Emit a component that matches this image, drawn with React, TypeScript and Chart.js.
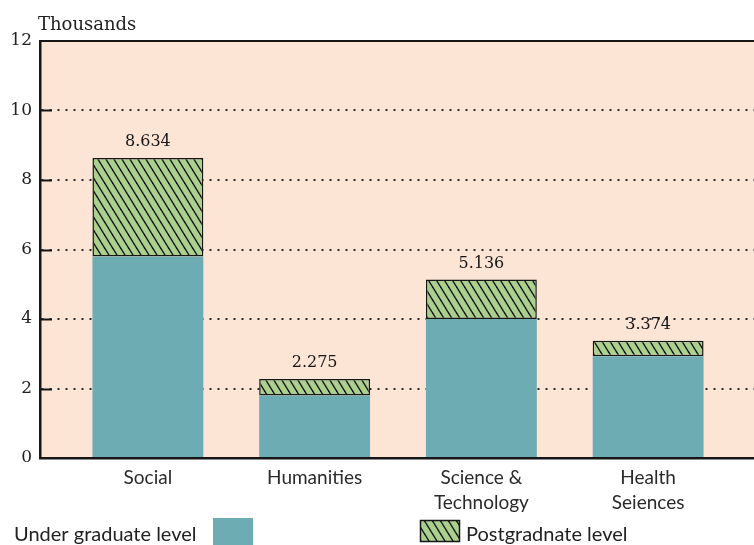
import React, { useEffect, useRef } from "react";
import { Chart, registerables } from "chart.js";

Chart.register(...registerables);

// Enrolment by field of study (thousands of students)
const CATEGORY_LINES: string[][] = [
  ["Social"],
  ["Humanities"],
  ["Science &", "Technology"],
  ["Health", "Seiences"],
];
const UNDERGRAD = [5.8, 1.8, 4.0, 2.93];
const POSTGRAD = [2.834, 0.475, 1.136, 0.444];
const Y_TICKS = [0, 2, 4, 6, 8, 10, 12];

const UNDERGRAD_LABEL = "Under graduate level";
const POSTGRAD_LABEL = "Postgradnate level";
const UNIT_LABEL = "Thousands";

const PLOT_BG = "#fde5d5";
const TEAL = "#6eacb4";
const GREEN = "#aacf8e";
const INK = "#161616";
const SERIF = "'DejaVu Serif', serif";
const SANS = "Lato, 'Open Sans', sans-serif";

function makeHatch(): CanvasPattern | string {
  const w = 8;
  const h = 13;
  const tile = document.createElement("canvas");
  tile.width = w;
  tile.height = h;
  const c = tile.getContext("2d");
  if (!c) return GREEN;
  c.fillStyle = GREEN;
  c.fillRect(0, 0, w, h);
  c.strokeStyle = INK;
  c.lineWidth = 1.4;
  for (const dx of [-w, 0, w]) {
    c.beginPath();
    c.moveTo(dx - w * 0.2, -h * 0.2);
    c.lineTo(dx + w * 1.2, h * 1.2);
    c.stroke();
  }
  const p = c.createPattern(tile, "repeat");
  return p || GREEN;
}

export default function App() {
  const ref = useRef<HTMLCanvasElement>(null);

  useEffect(() => {
    const canvas = ref.current;
    if (!canvas) return;
    const hatch = makeHatch();

    const decor = {
      id: "decor",
      beforeDraw(chart: any) {
        const { ctx, chartArea: a } = chart;
        ctx.save();
        ctx.fillStyle = "#ffffff";
        ctx.fillRect(0, 0, chart.width, chart.height);
        ctx.fillStyle = PLOT_BG;
        ctx.fillRect(a.left, a.top, a.right - a.left, a.bottom - a.top);
        ctx.restore();
      },
      beforeDatasetsDraw(chart: any) {
        const { ctx, chartArea: a } = chart;
        const ys = chart.scales.y;
        ctx.save();
        ctx.strokeStyle = INK;
        ctx.lineWidth = 2;
        for (const v of Y_TICKS) {
          if (v <= 0 || v >= 12) continue;
          const py = Math.round(ys.getPixelForValue(v)) + 0.5;
          ctx.beginPath();
          ctx.moveTo(a.left, py);
          ctx.lineTo(a.left + 12, py);
          ctx.stroke();
        }
        ctx.restore();
      },
      afterDatasetsDraw(chart: any) {
        const { ctx, chartArea: a } = chart;
        const top = chart.getDatasetMeta(1);
        ctx.save();
        ctx.fillStyle = INK;
        ctx.font = `16px ${SERIF}`;
        ctx.textAlign = "center";
        ctx.textBaseline = "alphabetic";
        top.data.forEach((el: any, i: number) => {
          const total = (UNDERGRAD[i] + POSTGRAD[i]).toFixed(3);
          ctx.fillText(total, el.x, el.y - 12);
        });
        // top frame of the plot
        ctx.strokeStyle = INK;
        ctx.lineWidth = 2;
        ctx.beginPath();
        ctx.moveTo(a.left, a.top);
        ctx.lineTo(a.right, a.top);
        ctx.stroke();
        ctx.restore();
      },
      afterDraw(chart: any) {
        const { ctx } = chart;
        ctx.save();
        ctx.fillStyle = "#222";
        ctx.textBaseline = "alphabetic";
        ctx.textAlign = "left";
        ctx.font = `18px ${SERIF}`;
        ctx.fillText(UNIT_LABEL, 38, 30);

        // legend
        ctx.font = `20px ${SANS}`;
        ctx.fillStyle = "#222";
        ctx.fillText(UNDERGRAD_LABEL, 14, 541);
        ctx.fillStyle = TEAL;
        ctx.fillRect(213, 518, 40, 27);

        ctx.fillStyle = hatch as any;
        ctx.fillRect(420, 520, 40, 22);
        ctx.strokeStyle = INK;
        ctx.lineWidth = 1.5;
        ctx.strokeRect(420.5, 520.5, 39, 21);
        ctx.fillStyle = "#222";
        ctx.fillText(POSTGRAD_LABEL, 466, 541);
        ctx.restore();
      },
    };

    const chart = new Chart(canvas, {
      type: "bar",
      data: {
        datasets: [
          {
            label: UNDERGRAD_LABEL,
            data: UNDERGRAD.map((v, i) => ({ x: i, y: v })) as any,
            backgroundColor: TEAL,
            borderWidth: 0,
          },
          {
            label: POSTGRAD_LABEL,
            data: POSTGRAD.map((v, i) => ({ x: i, y: v })) as any,
            backgroundColor: hatch as any,
            borderColor: INK,
            borderWidth: 1.5,
            borderSkipped: false,
          },
        ],
      },
      options: {
        animation: false,
        responsive: false,
        maintainAspectRatio: false,
        events: [],
        layout: { padding: { top: 41, right: 0, bottom: 0, left: 0 } },
        datasets: {
          bar: { categoryPercentage: 1, barPercentage: 0.665 },
        },
        plugins: {
          legend: { display: false },
          tooltip: { enabled: false },
          title: { display: false },
        },
        scales: {
          x: {
            type: "linear",
            stacked: true,
            offset: false,
            min: -0.647,
            max: 3.635,
            afterBuildTicks: (scale: any) => {
              scale.ticks = CATEGORY_LINES.map((_, i) => ({ value: i }));
            },
            afterFit: (scale: any) => {
              scale.height = 87;
            },
            grid: { display: false, drawTicks: false },
            border: { display: true, color: INK, width: 2.5 },
            ticks: {
              autoSkip: false,
              maxRotation: 0,
              padding: 8,
              color: "#2a2a2a",
              font: { family: SANS, size: 19, lineHeight: 1.3 },
              callback: (v: any) => CATEGORY_LINES[Math.round(Number(v))] || "",
            },
          },
          y: {
            stacked: true,
            min: 0,
            max: 12,
            afterBuildTicks: (scale: any) => {
              scale.ticks = Y_TICKS.map((v) => ({ value: v }));
            },
            afterFit: (scale: any) => {
              scale.width = 40;
            },
            grid: {
              drawTicks: false,
              lineWidth: 2,
              color: (c: any) =>
                c.tick && (c.tick.value === 0 || c.tick.value === 12)
                  ? "rgba(0,0,0,0)"
                  : "#2a2a2a",
            },
            border: { display: true, color: INK, width: 2.5, dash: [2, 6] },
            ticks: {
              padding: 8,
              color: "#222",
              font: { family: SERIF, size: 17 },
              callback: (v: any) => String(v),
            },
          },
        },
      },
      plugins: [decor],
    });

    return () => chart.destroy();
  }, []);

  return (
    <div
      style={{
        position: "fixed",
        left: 0,
        top: 0,
        width: 754,
        height: 545,
        background: "#ffffff",
        overflow: "hidden",
      }}
    >
      <canvas
        ref={ref}
        width={754}
        height={545}
        style={{ display: "block", width: 754, height: 545 }}
      />
    </div>
  );
}
